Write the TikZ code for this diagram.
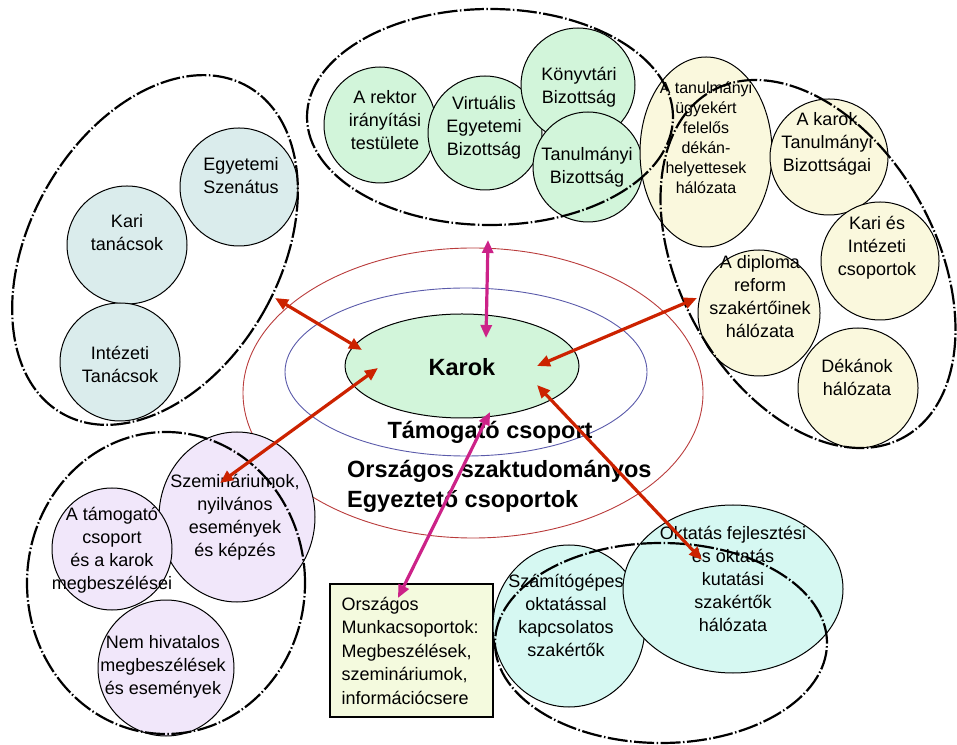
\documentclass[tikz,border=0pt]{standalone}
\usepackage{fontspec}
\setmainfont{Liberation Sans}
\usetikzlibrary{arrows.meta,shapes.geometric}
\definecolor{topgreen}{RGB}{210,245,218}
\definecolor{leftblue}{RGB}{218,236,236}
\definecolor{cream}{RGB}{250,248,221}
\definecolor{lavender}{RGB}{241,231,250}
\definecolor{cyanfill}{RGB}{214,248,242}
\definecolor{boxfill}{RGB}{244,250,222}
\definecolor{ringred}{RGB}{185,60,60}
\definecolor{ringblue}{RGB}{90,90,170}
\definecolor{arrowred}{RGB}{204,34,0}
\definecolor{arrowmag}{RGB}{204,34,136}
\begin{document}
\begin{tikzpicture}[x=1pt,y=1pt,
  bubble/.style={shape=ellipse,draw=black,line width=1pt,inner sep=0pt},
  grp/.style={shape=ellipse,draw=black,line width=2.2pt,inner sep=0pt,
    dash pattern=on 20pt off 2.5pt on 1.5pt off 2.5pt},
  ring/.style={shape=ellipse,line width=0.9pt,inner sep=0pt},
  lbl/.style={align=center,font=\fontsize{18}{23}\selectfont,inner sep=0pt},
  lblsmall/.style={align=center,font=\fontsize{16}{20}\selectfont,inner sep=0pt},
  bigbold/.style={font=\fontsize{23.5}{30}\selectfont\bfseries,inner sep=0pt},
  linkred/.style={draw=arrowred,line width=3.2pt,{Triangle[length=13pt,width=11pt]}-{Triangle[length=13pt,width=11pt]}},
  linkmag/.style={draw=arrowmag,line width=3.2pt,{Triangle[length=13pt,width=11pt]}-{Triangle[length=13pt,width=11pt]}}
]
\useasboundingbox (0,0) rectangle (957,744);

% rings around Karok
\node[ring,draw=ringred,minimum width=460,minimum height=290] (redring) at (473,351) {};
\node[ring,draw=ringblue,minimum width=362,minimum height=168] (bluering) at (466,372) {};
\node[bubble,fill=topgreen,minimum width=234,minimum height=104] (karok) at (462,378) {};
\node[bigbold] (karoktext) at (462,377) {Karok};
\node[bigbold] (tamogato) at (490,312) {Támogató csoport};
\node[bigbold,align=left,anchor=west] (orszagos) at (347,258) {Országos szaktudományos\\Egyeztető csoportok};

% top group
\node[bubble,fill=topgreen,minimum width=112,minimum height=116] (rektor) at (380,619) {};
\node[bubble,fill=topgreen,minimum width=114,minimum height=114] (virtualis) at (485,611) {};
\node[bubble,fill=topgreen,minimum width=114,minimum height=114] (konyvtari) at (578,659) {};
\node[bubble,fill=topgreen,minimum width=110,minimum height=110] (tanulmanyi) at (588,577) {};
\node[lbl] (t-rektor) at (385,624) {A rektor\\irányítási\\testülete};
\node[lbl] (t-virtualis) at (484,616) {Virtuális\\Egyetemi\\Bizottság};
\node[lbl] (t-konyvtari) at (579,657) {Könyvtári\\Bizottság};
\node[lbl] (t-tanulmanyi) at (587,577) {Tanulmányi\\Bizottság};

% right group
\node[bubble,fill=cream,minimum width=132,minimum height=190] (dekanhely) at (706,592) {};
\node[bubble,fill=cream,minimum width=118,minimum height=116] (karoktb) at (829,587) {};
\node[bubble,fill=cream,minimum width=118,minimum height=118] (karies) at (880,483) {};
\node[bubble,fill=cream,minimum width=122,minimum height=126] (diploma) at (759,431) {};
\node[bubble,fill=cream,minimum width=120,minimum height=120] (dekanok) at (858,356) {};
\node[lblsmall] (t-dekanhely) at (706,606) {A tanulmányi\\ügyekért\\felelős\\dékán-\\helyettesek\\hálózata};
\node[lbl] (t-karoktb) at (827,600) {A karok\\Tanulmányi\\Bizottságai};
\node[lbl] (t-karies) at (877,496) {Kari és\\Intézeti\\csoportok};
\node[lbl] (t-diploma) at (760,447) {A diploma\\reform\\szakértőinek\\hálózata};
\node[lbl] (t-dekanok) at (857,367) {Dékánok\\hálózata};

% left group
\node[bubble,fill=leftblue,minimum width=118,minimum height=118] (szenatus) at (239,557) {};
\node[bubble,fill=leftblue,minimum width=120,minimum height=118] (karitan) at (127,499) {};
\node[bubble,fill=leftblue,minimum width=120,minimum height=118] (intezeti) at (120,382) {};
\node[lbl] (t-szenatus) at (241,568) {Egyetemi\\Szenátus};
\node[lbl] (t-karitan) at (127,511) {Kari\\tanácsok};
\node[lbl] (t-intezeti) at (120,380) {Intézeti\\Tanácsok};

% bottom-left group
\node[bubble,fill=lavender,minimum width=156,minimum height=170] (szemin) at (237,227) {};
\node[bubble,fill=lavender,minimum width=120,minimum height=122] (tamcsop) at (112,195) {};
\node[bubble,fill=lavender,minimum width=136,minimum height=136] (nemhiv) at (166,76) {};
\node[lbl] (t-szemin) at (235,227) {Szemináriumok,\\nyilvános\\események\\és képzés};
\node[lbl] (t-tamcsop) at (112,194) {A támogató\\csoport\\és a karok\\megbeszélései};
\node[lbl] (t-nemhiv) at (163,77) {Nem hivatalos\\megbeszélések\\és események};

% box
\node[draw=black,line width=2pt,fill=boxfill,minimum height=133,text width=140pt,inner xsep=11.5pt,
  align=left,font=\fontsize{18}{23.5}\selectfont] (munka) at (411.5,93.5)
  {Országos\\Munkacsoportok:\\Megbeszélések,\\szemináriumok,\\információcsere};

% bottom-right group
\node[bubble,fill=cyanfill,minimum width=152,minimum height=162] (szamitog) at (569,118) {};
\node[bubble,fill=cyanfill,minimum width=220,minimum height=168] (oktatas) at (733,155) {};
\node[lbl] (t-szamitog) at (566,129) {Számítógépes\\oktatással\\kapcsolatos\\szakértők};
\node[lbl] (t-oktatas) at (733,165) {Oktatás fejlesztési\\és oktatás\\kutatási\\szakértők\\hálózata};

% group outlines
\node[grp,minimum width=366,minimum height=216] (gtop) at (490,627) {};
\node[grp,minimum width=256,minimum height=396,rotate=29] (gright) at (808,480) {};
\node[grp,minimum width=250,minimum height=376,rotate=-29.5] (gleft) at (155,494) {};
\node[grp,minimum width=278,minimum height=302] (gbl) at (166,161) {};
\node[grp,minimum width=332,minimum height=200] (gbr) at (661,101) {};

% connector end points
\coordinate (m1a) at (488,504);
\coordinate (m1b) at (486,406);
\coordinate (r2a) at (275,446);
\coordinate (r2b) at (362,394);
\coordinate (r3a) at (697,446);
\coordinate (r3b) at (537,378);
\coordinate (r4a) at (220,261);
\coordinate (r4b) at (378,376);
\coordinate (r5a) at (537,359);
\coordinate (r5b) at (702,184);
\coordinate (m6a) at (490,332);
\coordinate (m6b) at (398,146);

\draw[linkmag] (m1a) -- (m1b);
\draw[linkred] (r2a) -- (r2b);
\draw[linkred] (r3a) -- (r3b);
\draw[linkred] (r4a) -- (r4b);
\draw[linkred] (r5a) -- (r5b);
\draw[linkmag] (m6a) -- (m6b);
\end{tikzpicture}
\end{document}
